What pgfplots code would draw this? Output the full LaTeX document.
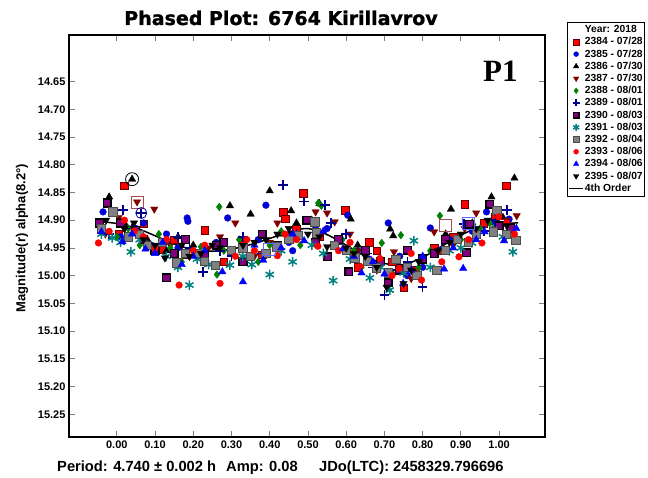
\documentclass[border=0pt]{standalone}
\usepackage{fontspec}
\setmainfont{Liberation Sans}
\newfontfamily\titlefont[BoldFeatures={FakeBold=1.2}]{DejaVu Sans}
\newfontfamily\seriffont{Liberation Serif}
\usepackage{pgfplots}
\pgfplotsset{compat=1.18}
\definecolor{cRed}{RGB}{255,0,0}
\definecolor{cBlue}{RGB}{0,0,215}
\definecolor{cMaroon}{RGB}{128,0,0}
\definecolor{cGreen}{RGB}{0,128,0}
\definecolor{cNavy}{RGB}{0,0,140}
\definecolor{cPurple}{RGB}{128,0,128}
\definecolor{cTeal}{RGB}{0,128,128}
\definecolor{cGray}{RGB}{128,128,128}
\definecolor{cBlue2}{RGB}{0,0,255}
\pgfplotsset{
  s1/.style={only marks, mark=square*, mark size=3.8pt, mark options={fill=cRed, draw=black!60!red, line width=0.4pt}},
  s2/.style={only marks, mark=*, mark size=3.4pt, mark options={fill=cBlue, draw=cBlue, line width=0.3pt}},
  s3/.style={only marks, mark=triangle*, mark size=4.3pt, mark options={fill=black, draw=black, line width=0.3pt}},
  s4/.style={only marks, mark=triangle*, mark size=4.3pt, mark options={rotate=180, fill=cMaroon, draw=cMaroon, line width=0.3pt}},
  s5/.style={only marks, mark=diamond*, mark size=3.9pt, mark options={fill=cGreen, draw=cGreen, line width=0.3pt}},
  s6/.style={only marks, mark=+, mark size=4.8pt, mark options={draw=cNavy, line width=1.6pt}},
  s7/.style={only marks, mark=square*, mark size=3.9pt, mark options={fill=cPurple, draw=black, line width=1.3pt}},
  s8/.style={only marks, mark=asterisk, mark size=4.8pt, mark options={draw=cTeal, line width=1.5pt}},
  s9/.style={only marks, mark=square*, mark size=4.1pt, mark options={fill=cGray, draw=black!70, line width=0.8pt}},
  s10/.style={only marks, mark=*, mark size=3.4pt, mark options={fill=cRed, draw=cRed, line width=0.3pt}},
  s11/.style={only marks, mark=triangle*, mark size=4.3pt, mark options={fill=cBlue2, draw=cBlue2, line width=0.3pt}},
  s12/.style={only marks, mark=triangle*, mark size=4.3pt, mark options={rotate=180, fill=black, draw=black, line width=0.3pt}},
}
\begin{document}
\begin{tikzpicture}
\useasboundingbox (0pt,0pt) rectangle (648pt,477pt);
\begin{axis}[
  at={(69pt,40pt)}, anchor=south west,
  width=476pt, height=402pt, scale only axis,
  xmin=-0.125, xmax=1.12,
  ymin=14.566, ymax=15.291, y dir=reverse,
  xtick={0,0.1,0.2,0.3,0.4,0.5,0.6,0.7,0.8,0.9,1.0},
  ytick={14.65,14.70,14.75,14.80,14.85,14.90,14.95,15.00,15.05,15.10,15.15,15.20,15.25},
  /pgf/number format/.cd, fixed, fixed zerofill, precision=2, assume math mode=true,
  /pgfplots/.cd,
  ticklabel style={font=\bfseries\fontsize{11}{13}\selectfont},
  tick style={gray, line width=0.8pt},
  major tick length=6pt,
  axis line style={black, line width=1.2pt},
  clip=true,
  legend style={at={(1.0462,1.033)}, anchor=north west, draw=black, line width=0.8pt,
    font=\bfseries\fontsize{10.3}{12}\selectfont, inner xsep=1pt, inner ysep=1.5pt,
    nodes={inner sep=1pt, text height=8pt, text depth=2.2pt}, row sep=0pt},
  legend cell align=left,
  legend image code/.code={\draw[mark repeat=2,mark phase=2,#1] plot coordinates {(0pt,0pt) (7pt,0pt) (14pt,0pt)};},
]
% ---- legend entries ----
\addlegendimage{empty legend}\addlegendentry{Year: 2018}
\addlegendimage{s1, mark size=2.8pt}\addlegendentry{2384 - 07/28}
\addlegendimage{s2, mark size=2.5pt}\addlegendentry{2385 - 07/28}
\addlegendimage{s3, mark size=3.2pt}\addlegendentry{2386 - 07/30}
\addlegendimage{s4, mark size=3.2pt}\addlegendentry{2387 - 07/30}
\addlegendimage{s5, mark size=2.9pt}\addlegendentry{2388 - 08/01}
\addlegendimage{s6, mark size=3.5pt}\addlegendentry{2389 - 08/01}
\addlegendimage{s7, mark size=2.8pt}\addlegendentry{2390 - 08/03}
\addlegendimage{s8, mark size=3.5pt}\addlegendentry{2391 - 08/03}
\addlegendimage{s9, mark size=2.8pt}\addlegendentry{2392 - 08/04}
\addlegendimage{s10, mark size=2.5pt}\addlegendentry{2393 - 08/06}
\addlegendimage{s11, mark size=3.2pt}\addlegendentry{2394 - 08/06}
\addlegendimage{s12, mark size=3.2pt}\addlegendentry{2395 - 08/07}
\addlegendimage{black, line width=1.5pt}\addlegendentry{4th Order}
% ---- data ----
\addplot[s1, forget plot] coordinates {(-0.04,14.916) (0.005,14.925) (0.02,14.838) (0.07,14.906) (0.12,14.952) (0.15,14.935) (0.18,14.962) (0.23,14.918) (0.26,14.945) (0.28,14.975) (0.33,14.940) (0.38,14.962) (0.435,14.886) (0.44,14.897) (0.47,14.915) (0.487,14.851) (0.53,14.930) (0.597,14.882) (0.63,14.985) (0.66,14.940) (0.68,14.955) (0.72,14.975) (0.75,15.022) (0.78,14.990) (0.83,14.950) (0.85,14.955) (0.88,14.930) (0.91,14.871) (0.96,14.905) (0.99,14.895) (1.018,14.838)};
\addplot[s2, forget plot] coordinates {(-0.036,14.885) (0.01,14.930) (0.05,14.915) (0.07,14.905) (0.09,14.945) (0.13,14.925) (0.16,14.950) (0.184,14.896) (0.186,14.902) (0.22,14.965) (0.26,14.940) (0.29,14.896) (0.33,14.970) (0.37,14.935) (0.39,14.873) (0.45,14.940) (0.46,14.955) (0.52,14.915) (0.55,14.915) (0.57,14.945) (0.604,14.891) (0.63,14.955) (0.66,14.970) (0.71,14.905) (0.74,14.965) (0.76,15.000) (0.80,14.985) (0.82,14.914) (0.87,14.935) (0.93,14.920) (0.967,14.885) (0.99,14.905) (1.026,14.898)};
\addplot[s3, forget plot] coordinates {(-0.02,14.858) (0.02,14.905) (0.04,14.826) (0.08,14.935) (0.13,14.955) (0.16,14.930) (0.20,14.945) (0.23,14.960) (0.26,14.985) (0.296,14.874) (0.35,14.889) (0.40,14.847) (0.43,14.925) (0.456,14.883) (0.47,14.905) (0.51,14.900) (0.53,14.870) (0.58,14.940) (0.612,14.898) (0.63,14.945) (0.66,14.975) (0.715,14.916) (0.723,14.928) (0.78,14.995) (0.83,14.960) (0.86,14.925) (0.874,14.880) (0.93,14.905) (0.98,14.858) (1.01,14.895) (1.04,14.824)};
\addplot[s4, forget plot] coordinates {(-0.03,14.925) (0.005,14.895) (0.02,14.915) (0.053,14.867) (0.075,14.935) (0.098,14.880) (0.14,14.945) (0.19,14.965) (0.24,14.950) (0.27,14.930) (0.31,14.905) (0.36,14.965) (0.40,14.940) (0.42,14.905) (0.47,14.930) (0.52,14.885) (0.55,14.887) (0.57,14.903) (0.61,14.925) (0.63,14.955) (0.68,14.990) (0.725,14.957) (0.74,14.985) (0.77,15.005) (0.83,14.921) (0.88,14.945) (0.91,14.915) (0.94,14.887) (0.99,14.915) (1.02,14.900) (1.046,14.892)};
\addplot[s5, forget plot] coordinates {(-0.04,14.915) (0.00,14.930) (0.03,14.915) (0.06,14.945) (0.11,14.925) (0.14,14.950) (0.17,14.975) (0.22,14.948) (0.262,14.998) (0.268,14.876) (0.28,14.955) (0.32,14.935) (0.37,14.975) (0.40,14.945) (0.43,14.920) (0.48,14.945) (0.527,14.869) (0.535,14.874) (0.59,14.935) (0.62,14.955) (0.64,14.985) (0.693,14.941) (0.72,14.995) (0.743,14.927) (0.79,14.985) (0.82,14.955) (0.845,14.892) (0.90,14.935) (0.95,14.915) (0.975,14.905) (1.00,14.882)};
\addplot[s6, forget plot] coordinates {(-0.02,14.925) (0.017,14.882) (0.04,14.915) (0.064,14.887) (0.11,14.945) (0.16,14.930) (0.19,14.950) (0.226,14.993) (0.27,14.955) (0.30,14.965) (0.33,14.930) (0.38,14.960) (0.435,14.837) (0.47,14.925) (0.49,14.866) (0.545,14.873) (0.56,14.905) (0.60,14.925) (0.655,14.960) (0.67,14.985) (0.70,15.035) (0.73,14.990) (0.76,14.975) (0.80,15.020) (0.85,14.950) (0.88,14.940) (0.908,14.907) (0.96,14.920) (0.99,14.900) (1.02,14.882)};
\addplot[s7, forget plot] coordinates {(-0.045,14.905) (-0.025,14.869) (0.01,14.905) (0.05,14.918) (0.07,14.935) (0.10,14.955) (0.13,15.004) (0.15,14.960) (0.18,14.935) (0.23,14.962) (0.26,14.945) (0.28,14.940) (0.33,14.975) (0.38,14.925) (0.42,14.945) (0.45,14.930) (0.497,14.900) (0.52,14.940) (0.552,14.966) (0.58,14.935) (0.607,14.993) (0.65,14.955) (0.69,14.975) (0.71,15.013) (0.74,14.990) (0.76,14.954) (0.80,14.970) (0.83,14.960) (0.86,14.935) (0.915,14.959) (0.923,14.907) (0.976,14.871) (1.00,14.910) (1.03,14.915)};
\addplot[s8, forget plot] coordinates {(-0.04,14.925) (-0.012,14.932) (0.01,14.940) (0.037,14.957) (0.06,14.935) (0.08,14.945) (0.13,14.965) (0.16,14.985) (0.19,15.017) (0.21,14.970) (0.24,14.980) (0.296,14.981) (0.33,14.965) (0.353,14.980) (0.40,14.998) (0.43,14.955) (0.46,14.975) (0.51,14.945) (0.54,14.960) (0.566,15.009) (0.61,14.970) (0.662,15.004) (0.69,14.985) (0.714,15.026) (0.75,14.995) (0.777,14.937) (0.82,14.985) (0.87,14.955) (0.90,14.950) (0.929,14.941) (0.985,14.916) (1.01,14.930) (1.036,14.957)};
\addplot[s9, forget plot] coordinates {(-0.04,14.915) (-0.01,14.885) (0.03,14.930) (0.06,14.925) (0.08,14.945) (0.12,14.940) (0.155,14.977) (0.18,14.960) (0.21,14.960) (0.23,14.975) (0.257,14.982) (0.30,14.955) (0.33,14.950) (0.35,14.965) (0.39,14.960) (0.419,14.948) (0.45,14.935) (0.474,14.928) (0.518,14.903) (0.522,14.923) (0.57,14.945) (0.60,14.955) (0.623,14.968) (0.655,14.975) (0.68,14.986) (0.71,14.995) (0.73,14.970) (0.76,14.985) (0.785,14.999) (0.837,14.991) (0.86,14.955) (0.89,14.935) (0.92,14.940) (0.94,14.925) (0.985,14.921) (0.994,14.883) (1.02,14.925) (1.044,14.936)};
\addplot[s10, forget plot] coordinates {(-0.048,14.941) (-0.02,14.920) (0.02,14.900) (0.045,14.920) (0.07,14.930) (0.10,14.950) (0.13,14.935) (0.163,15.017) (0.20,14.955) (0.23,14.945) (0.27,15.014) (0.31,14.965) (0.34,14.935) (0.36,14.955) (0.42,14.964) (0.44,14.925) (0.47,14.935) (0.526,14.947) (0.58,14.955) (0.61,14.940) (0.636,14.984) (0.688,14.969) (0.72,15.000) (0.738,14.987) (0.77,14.960) (0.797,15.008) (0.85,14.975) (0.895,14.966) (0.92,14.935) (0.955,14.941) (0.999,14.894) (1.02,14.905) (1.04,14.925)};
\addplot[s11, forget plot] coordinates {(-0.04,14.921) (0.015,14.939) (0.04,14.925) (0.075,14.952) (0.10,14.960) (0.12,14.940) (0.17,14.980) (0.20,14.965) (0.23,14.955) (0.276,14.993) (0.33,15.011) (0.36,14.945) (0.383,14.972) (0.43,14.950) (0.46,14.925) (0.49,14.937) (0.54,14.920) (0.592,14.951) (0.62,14.965) (0.64,14.995) (0.67,14.975) (0.70,14.997) (0.749,15.014) (0.77,14.990) (0.80,14.965) (0.856,14.988) (0.88,14.950) (0.906,14.987) (0.94,14.935) (0.962,14.921) (1.013,14.937) (1.045,14.915)};
\addplot[s12, forget plot] coordinates {(-0.028,14.900) (0.02,14.915) (0.045,14.905) (0.07,14.935) (0.10,14.945) (0.126,14.968) (0.17,14.945) (0.19,14.965) (0.22,14.960) (0.25,14.945) (0.27,14.950) (0.33,14.945) (0.36,14.940) (0.39,14.935) (0.42,14.925) (0.45,14.915) (0.50,14.925) (0.53,14.930) (0.55,14.948) (0.60,14.950) (0.62,14.960) (0.65,14.965) (0.68,14.985) (0.706,15.021) (0.75,15.014) (0.77,14.990) (0.79,14.975) (0.84,14.955) (0.87,14.940) (0.90,14.925) (0.94,14.915) (0.97,14.900) (1.02,14.910)};
% ---- flagged points ----
\addplot[only marks, mark=o, mark size=6.5pt, mark options={draw=black, line width=0.8pt}, forget plot] coordinates {(0.04,14.826)};
\addplot[only marks, mark=square, mark size=6pt, mark options={draw=cMaroon!70, line width=0.8pt}, forget plot] coordinates {(0.053,14.867) (0.86,14.909)};
\addplot[only marks, mark=o, mark size=5.5pt, mark options={draw=cNavy, line width=0.8pt}, forget plot] coordinates {(0.064,14.887)};
\addplot[only marks, mark=square, mark size=6pt, mark options={draw=cBlue2!60, line width=0.8pt}, forget plot] coordinates {(0.92,14.905) (0.40,14.952)};
% ---- fit ----
\addplot[black, line width=1.5pt, smooth, forget plot] coordinates {(-0.05,14.902) (0.00,14.906) (0.05,14.914) (0.10,14.928) (0.15,14.943) (0.20,14.953) (0.25,14.956) (0.30,14.952) (0.35,14.944) (0.40,14.933) (0.45,14.921) (0.50,14.915) (0.55,14.926) (0.60,14.945) (0.65,14.965) (0.70,14.978) (0.75,14.980) (0.80,14.967) (0.85,14.947) (0.90,14.927) (0.95,14.912) (1.00,14.906) (1.05,14.905)};
\end{axis}
\node[anchor=base, font=\titlefont\bfseries\fontsize{19}{22}\selectfont] at (281pt,452pt) {Phased Plot: 6764 Kirillavrov};
\node[anchor=base west, inner sep=0pt, font=\seriffont\bfseries\fontsize{31}{34}\selectfont] at (483pt,395pt) {P1};
\node[anchor=center, rotate=90, inner sep=0pt, font=\bfseries\fontsize{13}{15}\selectfont] at (22pt,239pt) {Magnitude(r) alpha(8.2°)};
\node[anchor=base west, inner sep=0pt, font=\bfseries\fontsize{14.7}{16}\selectfont] at (57pt,6pt) {Period: 4.740 ± 0.002 h};
\node[anchor=base west, inner sep=0pt, font=\bfseries\fontsize{14.7}{16}\selectfont] at (226pt,6pt) {Amp: 0.08};
\node[anchor=base west, inner sep=0pt, font=\bfseries\fontsize{14.7}{16}\selectfont] at (319pt,6pt) {JDo(LTC): 2458329.796696};
\end{tikzpicture}
\end{document}
